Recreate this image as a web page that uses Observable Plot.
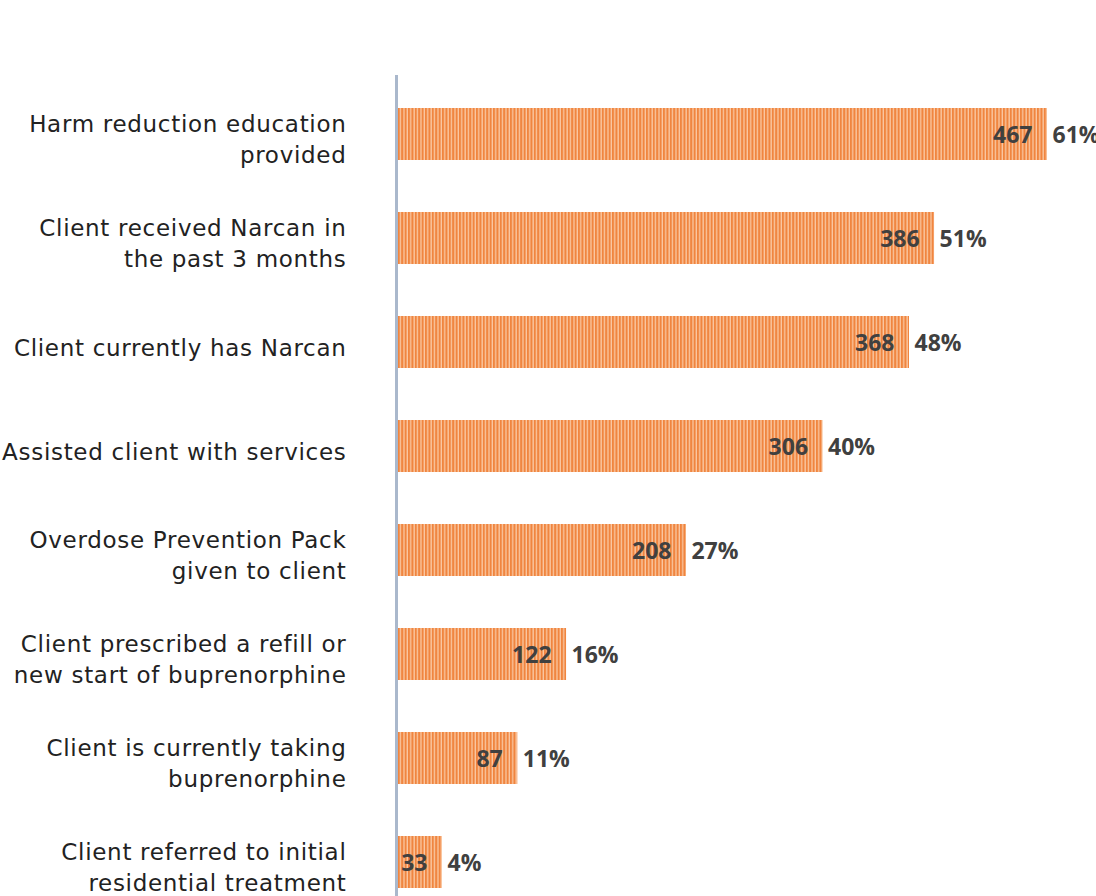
<!DOCTYPE html>
<html><head><meta charset="utf-8">
<script src="https://cdn.jsdelivr.net/npm/d3@7"></script>
<script src="https://cdn.jsdelivr.net/npm/@observablehq/plot@0.6"></script>
<style>
html,body{margin:0;padding:0;background:#fff;}
g[font-family="DejaVu Sans"] text{letter-spacing:0.7px;}
</style>
</head><body>
<div id="chart"></div>
<script>
const categories = [
  "Harm reduction education\nprovided",
  "Client received Narcan in\nthe past 3 months",
  "Client currently has Narcan",
  "Assisted client with services",
  "Overdose Prevention Pack\ngiven to client",
  "Client prescribed a refill or\nnew start of buprenorphine",
  "Client is currently taking\nbuprenorphine",
  "Client referred to initial\nresidential treatment"
];
const counts = [467, 386, 368, 306, 208, 122, 87, 33];
const percents = [61, 51, 48, 40, 27, 16, 11, 4];

const data = categories.map((c, i) => ({category: c, count: counts[i], pct: percents[i]}));

const chart = Plot.plot({
  width: 1096,
  height: 896,
  marginLeft: 396,
  marginRight: 3,
  marginTop: 75,
  marginBottom: 0,
  style: {background: "#fff"},
  x: {domain: [0, 500], axis: null},
  y: {domain: categories, axis: null, paddingInner: 0.5, paddingOuter: 0.197, align: 0.8},
  marks: [
    Plot.barX(data, {x: "count", y: "category", fill: "url(#stripes)"}),
    Plot.ruleX([0], {stroke: "#AAB8CC", strokeWidth: 3}),
    Plot.text(data, {x: "count", y: "category", text: d => String(d.count), textAnchor: "end", dx: -15, dy: 1,
      fill: "#404040", fontFamily: "Open Sans", fontWeight: "bold", fontSize: 23}),
    Plot.text(data, {x: "count", y: "category", text: d => d.pct + "%", textAnchor: "start", dx: 5, dy: 1,
      fill: "#404040", fontFamily: "Open Sans", fontWeight: "bold", fontSize: 23}),
    Plot.text(data, {x: 0, y: "category", text: "category", textAnchor: "end", dx: -50, dy: 3,
      lineHeight: 1.36, fill: "#222", fontFamily: "DejaVu Sans", fontSize: 23})
  ]
});

const defs = d3.select(chart).insert("defs", ":first-child");
const pat = defs.append("pattern").attr("id", "stripes").attr("patternUnits", "userSpaceOnUse")
  .attr("width", 3.4).attr("height", 10);
pat.append("rect").attr("width", 3.4).attr("height", 10).attr("fill", "#FAC9A4");
pat.append("rect").attr("width", 2.1).attr("height", 10).attr("fill", "#F0853F");

document.getElementById("chart").appendChild(chart);
</script>
</body></html>
